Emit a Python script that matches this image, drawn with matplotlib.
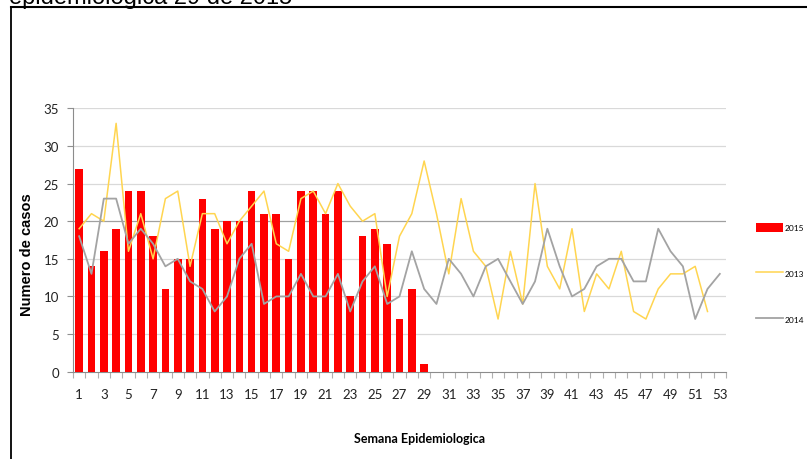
import numpy as np
import matplotlib.pyplot as plt
from matplotlib.lines import Line2D

# # # # # data # # # # #

weeks = np.arange(1, 54)

# casos 2015 (semanas 1 a 29)
cases_2015 = [27, 14, 16, 19, 24, 24, 18, 11, 15, 15, 23, 19, 20, 20, 24,
	21, 21, 15, 24, 24, 21, 24, 10, 18, 19, 17, 7, 11, 1]

# casos 2013 (semanas 1 a 52)
cases_2013 = [19, 21, 20, 33, 16, 21, 15, 23, 24, 14, 21, 21, 17, 20, 22,
	24, 17, 16, 23, 24, 21, 25, 22, 20, 21, 10, 18, 21, 28, 21, 13, 23, 16,
	14, 7, 16, 9, 25, 14, 11, 19, 8, 13, 11, 16, 8, 7, 11, 13, 13, 14, 8]

# casos 2014 (semanas 1 a 53)
cases_2014 = [18, 13, 23, 23, 17, 19, 17, 14, 15, 12, 11, 8, 10, 15, 17,
	9, 10, 10, 13, 10, 10, 13, 8, 12, 14, 9, 10, 16, 11, 9, 15, 13, 10, 14,
	15, 12, 9, 12, 19, 14, 10, 11, 14, 15, 15, 12, 12, 19, 16, 14, 7, 11, 13]

week_labels = [str(w) for w in range(1, 54, 2)]

W, H = 807, 460

# # # # # figure # # # # #

plt.rcParams['font.family'] = ['Lato', 'DejaVu Sans']

fig = plt.figure(figsize=(W / 100, H / 100), dpi=100)

# axes placed in pixel coordinates of the reference
ax = fig.add_axes([73 / W, 1 - 372.7 / H, (726 - 73) / W, (372.7 - 109.3) / H])

# bars 2015
bars = ax.bar(weeks[:len(cases_2015)], cases_2015, width=0.62,
	color='#ff0000', label='2015', zorder=3)

# lines 2013 and 2014
line13, = ax.plot(weeks[:len(cases_2013)], cases_2013, color='#ffd550',
	linewidth=1.1, label='2013', zorder=4)
line14, = ax.plot(weeks[:len(cases_2014)], cases_2014, color='#a3a3a3',
	linewidth=1.3, label='2014', zorder=4)

# limits and ticks
ax.set_xlim(0.5, 53.5)
ax.set_ylim(0, 35)
ax.set_yticks(np.arange(0, 36, 5))
ax.set_xticks(np.arange(1, 54, 2))
ax.set_xticklabels(week_labels)
ax.set_xticks(np.arange(0.5, 54, 1), minor=True)
ax.tick_params(axis='x', which='major', length=0, labelsize=9.5, pad=12,
	colors='#222222')
ax.tick_params(axis='x', which='minor', length=4, width=0.8, color='#b0b0b0')
ax.tick_params(axis='y', length=4, width=0.8, color='#909090', labelsize=9.5,
	pad=6, labelcolor='#222222')

# grid lines, the 20 line is darker as in the original
for yv in np.arange(5, 36, 5):
	gcol = '#a0a0a0' if yv == 20 else '#d9d9d9'
	ax.axhline(yv, color=gcol, linewidth=0.9, zorder=1)

for side in ['top', 'right']:
	ax.spines[side].set_visible(False)
ax.spines['left'].set_color('#8c8c8c')
ax.spines['bottom'].set_color('#8c8c8c')

# axis labels
fig.text(27 / W, 1 - 255 / H, 'Numero de casos', rotation=90, ha='center',
	va='center', fontsize=10.5, fontweight='bold',
	family=['Liberation Sans', 'DejaVu Sans'])
fig.text(420 / W, 1 - 439 / H, 'Semana Epidemiologica', ha='center',
	va='center', fontsize=9, fontweight='bold')

# legend on the right
fig.legend(handles=[bars, line13, line14], loc='center left',
	bbox_to_anchor=(752 / W, 1 - 274 / H), frameon=False, fontsize=6,
	handlelength=3.2, handleheight=1.3, labelspacing=4.4, handletextpad=0.2,
	borderpad=0)

# frame of the slide and clipped title
fig.add_artist(Line2D([11 / W, 11 / W], [0, 1 - 8 / H], color='black',
	linewidth=1.3))
fig.add_artist(Line2D([11 / W, 1], [1 - 8 / H, 1 - 8 / H], color='black',
	linewidth=1.5))
fig.text(9 / W, 1 - 4 / H, 'epidemiologica 29 de 2015', ha='left',
	va='baseline', fontsize=17, family=['Liberation Sans', 'DejaVu Sans'])

fig.savefig('out.png', dpi=100)
